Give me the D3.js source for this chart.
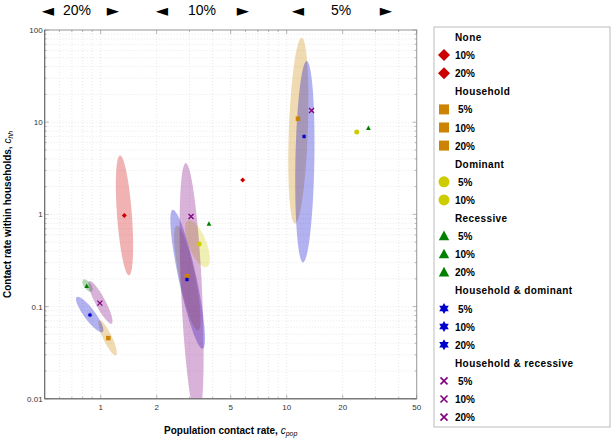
<!DOCTYPE html>
<html><head><meta charset="utf-8">
<script src="https://cdn.jsdelivr.net/npm/d3@7"></script>
<style>
body{margin:0;background:#fff}
svg{display:block}
text{font-family:"Liberation Sans",Arial,Helvetica,sans-serif}
</style>
</head><body>
<svg id="c" width="614" height="443"></svg>
<script>
// ---------- data ----------
const seriesNames = ["None","Household","Dominant","Recessive","Household & dominant","Household & recessive"];
const seriesColors = ["#cc0000","#cc8400","#cccc00","#008000","#0000cc","#800080"];
const seriesShapes = ["diamond","square","circle","triangle","star","cross"];
const seriesLevels = [["10%","20%"],["5%","10%","20%"],["5%","10%"],["5%","10%","20%"],["5%","10%","20%"],["5%","10%","20%"]];
// population contact rate (x) per series / level
const cPop = [[5.8,1.34],[11.5,2.91,1.099],[23.8,3.38],[27.5,3.82,0.841],[12.4,2.91,0.876],[13.6,3.06,0.99]];
// within household contact rate (y)
const cHH  = [[2.36,0.97],[10.9,0.213,0.0455],[7.81,0.476],[8.63,0.79,0.167],[7.0,0.197,0.0809],[13.4,0.95,0.109]];
// uncertainty ellipses: major-axis ends [x1,y1,x2,y2], null = none
const ellipseAxis = [
  [null,[1.27,4.36,1.419,0.218]],
  [[12.04,82.5,11.08,0.793],[2.563,0.760,3.336,0.0552],[0.983,0.0709,1.208,0.0296]],
  [null,[2.958,0.861,3.715,0.268]],
  [null,null,[0.806,0.196,0.895,0.146]],
  [[12.81,46.0,12.24,0.3015],[2.438,1.124,3.535,0.0349],[0.743,0.127,1.025,0.0529]],
  [null,[2.864,3.60,3.315,0.00583],[0.868,0.189,1.146,0.0653]]
];
// half minor axis, in log10 decades of x
const ellipseHalfWidth = [
  [null,0.040],
  [0.051,0.043,0.024],
  [null,0.048],
  [null,null,0.019],
  [0.051,0.048,0.030],
  [null,0.0565,0.027]
];
const xTicks = [1,2,5,10,20,50];
const yTicks = [100,10,1,0.1,0.01];
const yTickLabels = ["100","10","1","0.1","0.01"];
const bandLabels = ["20%","10%","5%"];

// ---------- layout ----------
const svg = d3.select("#c");
const X0 = 44.7, X1 = 416.7, Y0 = 398.8, Y1 = 30;
const x = d3.scaleLog().domain([0.5,50]).range([X0,X1]);
const y = d3.scaleLog().domain([0.01,100]).range([Y0,Y1]);

function logMinor(lo,hi){const out=[];for(let e=-3;e<=3;e++){for(let k=1;k<=9;k++){const v=k*Math.pow(10,e);if(v>=lo*0.999&&v<=hi*1.001)out.push(v);}}return out;}
const xMinor = logMinor(0.5,50), yMinor = logMinor(0.01,100);

// grid
const grid = svg.append("g");
xMinor.forEach(v=>grid.append("line").attr("x1",x(v)).attr("x2",x(v)).attr("y1",Y1).attr("y2",Y0)
  .attr("stroke","#d8d8d8").attr("stroke-width",0.6).attr("stroke-dasharray","1,2"));
yMinor.forEach(v=>grid.append("line").attr("y1",y(v)).attr("y2",y(v)).attr("x1",X0).attr("x2",X1)
  .attr("stroke","#d8d8d8").attr("stroke-width",0.6).attr("stroke-dasharray","1,2"));

svg.append("clipPath").attr("id","pc").append("rect").attr("x",X0).attr("y",Y1).attr("width",X1-X0).attr("height",Y0-Y1);

// ellipses
const eg = svg.append("g").attr("clip-path","url(#pc)");
seriesNames.forEach((n,si)=>{
  ellipseAxis[si].forEach((a,li)=>{
    if(!a) return;
    const p1=[x(a[0]),y(a[1])], p2=[x(a[2]),y(a[3])];
    const cx=(p1[0]+p2[0])/2, cy=(p1[1]+p2[1])/2;
    const rx=Math.hypot(p2[0]-p1[0],p2[1]-p1[1])/2;
    const ry=x(Math.pow(10,ellipseHalfWidth[si][li]))-x(1);
    const ang=Math.atan2(p2[1]-p1[1],p2[0]-p1[0])*180/Math.PI;
    eg.append("ellipse").attr("cx",cx).attr("cy",cy).attr("rx",rx).attr("ry",ry)
      .attr("transform",`rotate(${ang},${cx},${cy})`)
      .attr("fill",seriesColors[si]).attr("fill-opacity",0.3);
  });
});

// frame & ticks
const fr = svg.append("g");
fr.append("rect").attr("x",X0).attr("y",Y1).attr("width",X1-X0).attr("height",Y0-Y1)
  .attr("fill","none").attr("stroke","#999").attr("stroke-width",1);
xMinor.forEach(v=>{
  const L = xTicks.some(t=>Math.abs(t-v)/t<1e-6)?4:2;
  fr.append("line").attr("x1",x(v)).attr("x2",x(v)).attr("y1",Y0).attr("y2",Y0-L).attr("stroke","#888").attr("stroke-width",0.6);
  fr.append("line").attr("x1",x(v)).attr("x2",x(v)).attr("y1",Y1).attr("y2",Y1+L).attr("stroke","#888").attr("stroke-width",0.6);
});
yMinor.forEach(v=>{
  const L = yTicks.some(t=>Math.abs(t-v)/t<1e-6)?4:2;
  fr.append("line").attr("y1",y(v)).attr("y2",y(v)).attr("x1",X0).attr("x2",X0+L).attr("stroke","#888").attr("stroke-width",0.6);
  fr.append("line").attr("y1",y(v)).attr("y2",y(v)).attr("x1",X1).attr("x2",X1-L).attr("stroke","#888").attr("stroke-width",0.6);
});
svg.append("line").attr("x1",X0).attr("x2",X0).attr("y1",Y1).attr("y2",Y0).attr("stroke","#666");
svg.append("line").attr("x1",X0).attr("x2",X1).attr("y1",Y0).attr("y2",Y0).attr("stroke","#666");

xTicks.forEach(v=>svg.append("text").attr("x",x(v)).attr("y",Y0+11).attr("text-anchor","middle")
  .attr("font-size",8).attr("fill","#333").text(v));
yTicks.forEach((v,i)=>svg.append("text").attr("x",X0-2).attr("y",y(v)+3).attr("text-anchor","end")
  .attr("font-size",8).attr("fill","#333").text(yTickLabels[i]));

// axis titles
const xt = svg.append("text").attr("x",(X0+X1)/2).attr("y",434).attr("text-anchor","middle")
  .attr("font-size",10).attr("font-weight","bold");
xt.append("tspan").text("Population contact rate, ");
xt.append("tspan").attr("font-style","italic").attr("font-weight","normal").text("c");
xt.append("tspan").attr("font-style","italic").attr("font-weight","normal").attr("font-size",7).attr("dy",2).text("pop");
const yt = svg.append("text").attr("transform",`translate(11,${(Y0+Y1)/2}) rotate(-90)`).attr("text-anchor","middle")
  .attr("font-size",10).attr("font-weight","bold");
yt.append("tspan").text("Contact rate within households, ");
yt.append("tspan").attr("font-style","italic").attr("font-weight","normal").text("c");
yt.append("tspan").attr("font-style","italic").attr("font-weight","normal").attr("font-size",7).attr("dy",2).text("hh");

// top band labels
const bandCenters = [77,202,341];
const arrowLeft = [48,162,298];
const arrowRight = [113,243,386];
bandLabels.forEach((t,i)=>{
  svg.append("text").attr("x",bandCenters[i]).attr("y",14.5).attr("text-anchor","middle").attr("font-size",14).text(t);
  [["◄",arrowLeft[i]],["►",arrowRight[i]]].forEach(([g,ax])=>svg.append("text").attr("x",ax).attr("y",10)
    .attr("dominant-baseline","central").attr("text-anchor","middle").attr("font-size",16)
    .style("font-family","'DejaVu Sans',sans-serif").text(g));
});

// marker paths
function markerPath(shape,s){
  const h=s/2;
  switch(shape){
    case "diamond": return `M0,${-h}L${h},0L0,${h}L${-h},0Z`;
    case "square": return `M${-h},${-h}H${h}V${h}H${-h}Z`;
    case "circle": return `M${h},0A${h},${h} 0 1,1 ${-h},0A${h},${h} 0 1,1 ${h},0Z`;
    case "triangle": return `M0,${-h}L${h*0.95},${h*0.75}L${-h*0.95},${h*0.75}Z`;
    case "star": {
      const a=(k,o)=>[h*Math.sin(Math.PI*2*k/3+o), -h*Math.cos(Math.PI*2*k/3+o)];
      const t1=[0,1,2].map(k=>a(k,0)), t2=[0,1,2].map(k=>a(k,Math.PI));
      return "M"+t1.map(p=>p.join(",")).join("L")+"Z M"+t2.map(p=>p.join(",")).join("L")+"Z";
    }
    case "cross": return `M${-h},${-h}L${h},${h}M${-h},${h}L${h},${-h}`;
  }
}
function drawMarker(g,shape,color,cx,cy,s){
  const p=g.append("path").attr("d",markerPath(shape,s)).attr("transform",`translate(${cx},${cy})`);
  if(shape==="cross") p.attr("fill","none").attr("stroke",color).attr("stroke-width",s>6?1.6:1.3);
  else p.attr("fill",color);
}

// points
const pg = svg.append("g");
const plotSize = {diamond:5,square:4.5,circle:5,triangle:5,star:5,cross:5};
seriesNames.forEach((n,si)=>{
  cPop[si].forEach((v,li)=>drawMarker(pg,seriesShapes[si],seriesColors[si],x(v),y(cHH[si][li]),plotSize[seriesShapes[si]]));
});

// legend
const lg = svg.append("g");
lg.append("rect").attr("x",434).attr("y",27).attr("width",176).attr("height",400).attr("fill","#fff").attr("stroke","#bbb");
let ly = 37;
const step = 18.1;
const legSize = {diamond:12,square:10,circle:11,triangle:11,star:11,cross:7};
seriesNames.forEach((n,si)=>{
  lg.append("text").attr("x",455).attr("y",ly+4).attr("font-size",10).attr("font-weight","bold").attr("letter-spacing",0.4).text(n);
  ly += step;
  seriesLevels[si].forEach(l=>{
    drawMarker(lg,seriesShapes[si],seriesColors[si],444,ly,legSize[seriesShapes[si]]);
    lg.append("text").attr("x",l.length<3?458:455).attr("y",ly+4).attr("font-size",10).attr("font-weight","bold").text(l);
    ly += step;
  });
});
</script>
</body></html>
